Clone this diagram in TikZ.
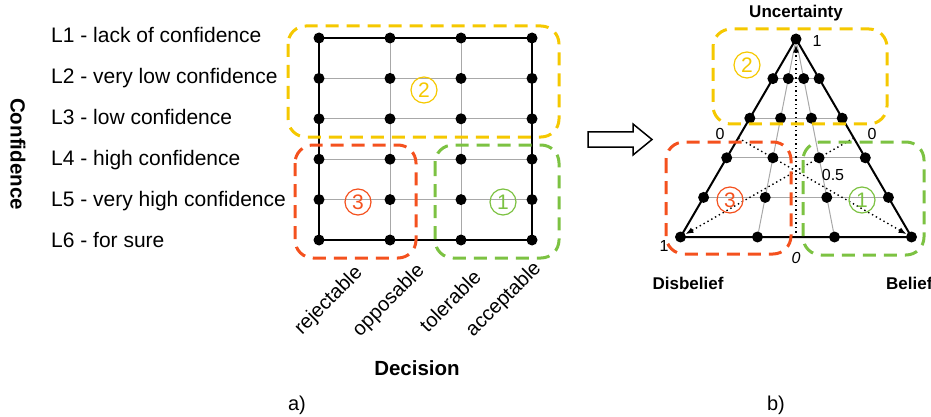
\documentclass[tikz,border=0pt]{standalone}
\usepackage{fontspec}
\setmainfont{Liberation Sans}
\usetikzlibrary{arrows.meta,calc}
\definecolor{zoneyellow}{HTML}{F5C800}
\definecolor{zonered}{HTML}{F4511E}
\definecolor{zonegreen}{HTML}{7CC242}
\definecolor{gridgrey}{HTML}{A8A8A8}

\begin{document}
\begin{tikzpicture}[x=1pt,y=-1pt,
    dot/.style={circle,fill=black,inner sep=0pt,minimum size=11pt},
    zone/.style={line width=3pt,dash pattern=on 13pt off 8pt,rounded corners=18pt},
    thingrid/.style={gridgrey,line width=1pt},
    frame/.style={black,line width=2pt},
    axis/.style={line width=1.4pt,dash pattern=on 1.4pt off 3pt,-{Latex[length=8pt,width=6pt]}},
    level/.style={anchor=base west,inner sep=0pt,font=\fontsize{21}{25}\selectfont},
    decision/.style={rotate=45,inner sep=0pt,font=\fontsize{20}{24}\selectfont},
    title/.style={inner sep=0pt,font=\bfseries\fontsize{20.5}{24}\selectfont},
    corner/.style={inner sep=0pt,font=\bfseries\fontsize{17}{20}\selectfont},
    tick/.style={inner sep=0pt,font=\fontsize{16}{18}\selectfont},
    num/.style={circle,draw,line width=1.2pt,minimum size=26pt,inner sep=0pt,font=\fontsize{21}{21}\selectfont},
    caption/.style={inner sep=0pt,font=\fontsize{20}{24}\selectfont}]
  \useasboundingbox (0,0) rectangle (931,417);

  % a) confidence / decision grid
  \foreach \c in {0,...,3}
    \foreach \r in {0,...,5}
      \coordinate (g\c\r) at ({319+71*\c},{38+40.4*\r});
  \foreach \r in {1,...,4}
    \draw[thingrid] (g0\r) -- (g3\r);
  \foreach \c in {1,2}
    \draw[thingrid] (g\c0) -- (g\c5);
  \draw[frame] (g00) rectangle (g35);
  \foreach \c in {0,...,3}
    \foreach \r in {0,...,5}
      \node[dot] (p\c\r) at (g\c\r) {};

  \foreach \txt [count=\i from 0] in {L1 - lack of confidence,L2 - very low confidence,L3 - low confidence,L4 - high confidence,L5 - very high confidence,L6 - for sure}
    \node[level] (lvl\i) at (51,{43+40.8*\i}) {\txt};
  \node[title,rotate=-90] (confidence) at (18,154) {Confidence};

  \node[decision] (rejectable) at (329,301) {rejectable};
  \node[decision] (opposable) at (389,301) {opposable};
  \node[decision] (tolerable) at (450,301) {tolerable};
  \node[decision] (acceptable) at (504,300) {acceptable};
  \node[title] (decision) at (417,368) {Decision};

  \draw[zone,zoneyellow] (288,26) rectangle (559,137);
  \draw[zone,zonered] (295,145) rectangle (416,258);
  \draw[zone,zonegreen] (435,145) rectangle (559,258);
  \node[num,zoneyellow] (gridtwo) at (424,90) {2};
  \node[num,zonered] (gridthree) at (358,202) {3};
  \node[num,zonegreen] (gridone) at (503,202) {1};

  % hollow arrow
  \draw[line width=1.5pt,line join=miter] (588,132) -- (633,132) -- (633,124) -- (652,139.5)
    -- (633,155) -- (633,147) -- (588,147) -- cycle;

  % b) opinion triangle
  \coordinate (ta) at (796,39);
  \foreach \k in {1,...,5}
    \foreach \j in {0,...,3}
      \coordinate (t\k\j) at ({796+115.5*\k/5*(2*\j/3-1)},{39+39.6*\k});
  \foreach \k in {1,...,4}
    \draw[thingrid] (t\k0) -- (t\k3);
  \draw[thingrid] (ta) -- (t51) (ta) -- (t52);
  \draw[frame,line join=round] (ta) -- (t50) -- (t53) -- cycle;
  \node[dot] (apex) at (ta) {};
  \foreach \k in {1,...,5}
    \foreach \j in {0,...,3}
      \node[dot] (d\k\j) at (t\k\j) {};

  \coordinate (mbase) at ($(t50)!0.5!(t53)$);
  \coordinate (mleft) at ($(ta)!0.5!(t50)$);
  \coordinate (mright) at ($(ta)!0.5!(t53)$);
  \draw[axis] (mbase) -- (apex);
  \draw[axis] (mleft) -- (d53);
  \draw[axis] (mright) -- (d50);

  \node[tick] (uone) at (817,41) {1};
  \node[tick] (uzero) at (796,258) {\itshape 0};
  \node[tick] (dzero) at (720,134) {0};
  \node[tick] (bzero) at (872,134) {0};
  \node[tick] (half) at (833,175) {0.5};
  \node[tick] (done) at (664,246) {1};

  \node[corner] (uncertainty) at (796,13) {Uncertainty};
  \node[corner] (disbelief) at (688,283) {Disbelief};
  \node[corner,anchor=west] (belief) at (886,283) {Belief};

  \draw[zone,zoneyellow] (713,29) rectangle (887,124);
  \draw[zone,zonered] (666,142) rectangle (791,254);
  \draw[zone,zonegreen] (803,142) rectangle (924,255);
  \node[num,zoneyellow] (tritwo) at (747,65) {2};
  \node[num,zonered] (trithree) at (730,200) {3};
  \node[num,zonegreen] (trione) at (862,200) {1};

  \node[caption] (capa) at (297,405) {a)};
  \node[caption] (capb) at (776,405) {b)};
\end{tikzpicture}
\end{document}
